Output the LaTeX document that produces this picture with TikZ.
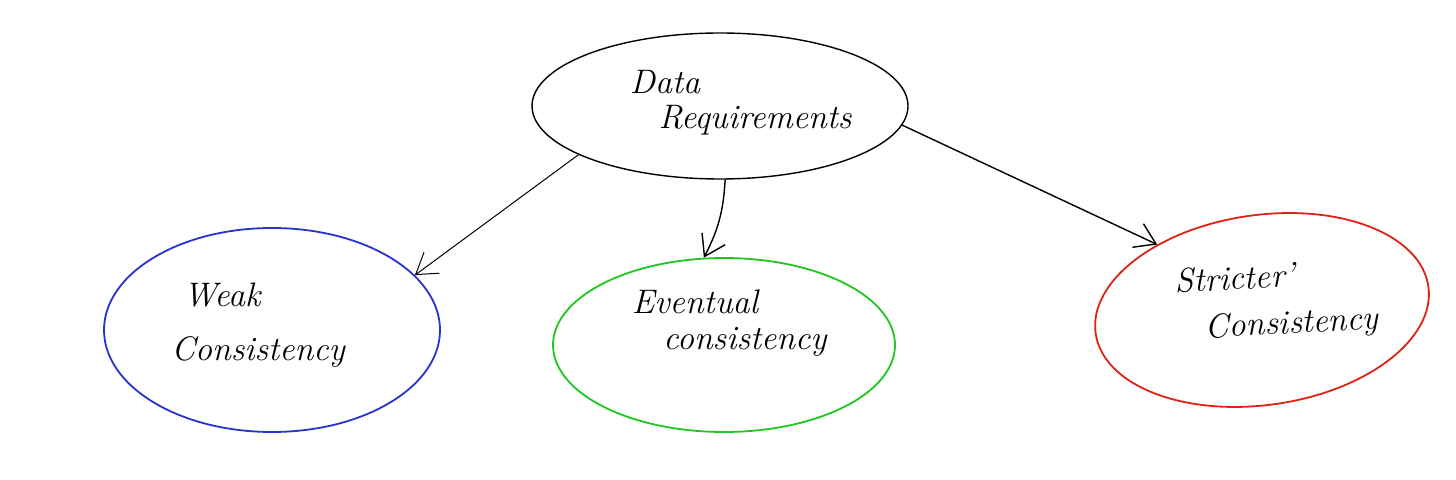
\documentclass[tikz,border=0pt]{standalone}
\usetikzlibrary{shapes.geometric,arrows.meta}
\definecolor{wblue}{RGB}{40,50,205}
\definecolor{egreen}{RGB}{30,200,30}
\definecolor{sred}{RGB}{220,35,20}
\begin{document}
\begin{tikzpicture}[x=0.5pt,y=-0.5pt,
  oval/.style={ellipse,draw,inner sep=0pt},
  hand/.style={font=\fontsize{17}{19}\selectfont\itshape,inner sep=0pt,align=left},
  arr/.style={line width=0.5pt,-{Straight Barb[length=10pt,width=13pt]}}]
\useasboundingbox (0,0) rectangle (1456,480);
\node[oval,line width=0.7pt,minimum width=188pt,minimum height=73pt] (data) at (720,106) {};
\node[oval,draw=wblue,line width=0.9pt,minimum width=168pt,minimum height=102pt] (weak) at (272,330) {};
\node[oval,draw=egreen,line width=0.9pt,minimum width=171pt,minimum height=87pt] (event) at (724,345) {};
\node[oval,draw=sred,line width=0.9pt,minimum width=168pt,minimum height=95pt,rotate=8] (strict) at (1262,310) {};
\node[hand] (tdata1) at (665,82) {Data};
\node[hand] (tdata2) at (755,120) {Requirements};
\node[hand] (tweak1) at (222,295) {Weak};
\node[hand] (tweak2) at (258,352) {Consistency};
\node[hand] (tev1) at (695,302) {Eventual};
\node[hand] (tev2) at (745,342) {consistency};
\node[hand,rotate=3] (tst1) at (1235,278) {Stricter'};
\node[hand,rotate=3] (tst2) at (1292,325) {Consistency};
\draw[arr] (data.199) -- (weak.21);
\draw[arr,line width=0.7pt] (data.274) to[bend left=12] (event.103);
\draw[arr,line width=0.7pt] (data.354) -- (strict.140);
\end{tikzpicture}
\end{document}
